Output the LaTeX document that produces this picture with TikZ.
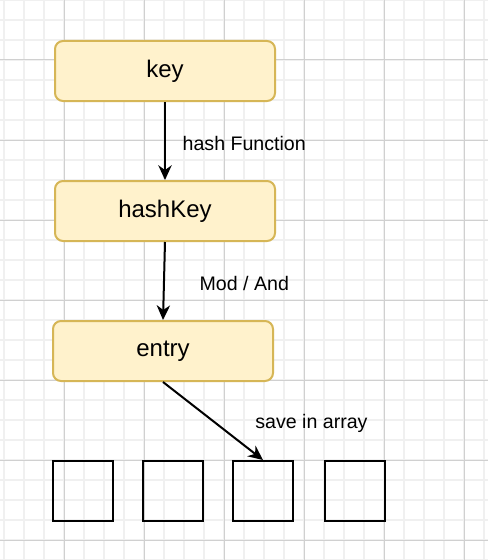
\documentclass[tikz,border=0pt]{standalone}
\usepackage{fontspec}
\setmainfont{Liberation Sans}
\usepackage{xcolor}
\usetikzlibrary{arrows.meta,positioning}
\definecolor{boxfill}{HTML}{FFF2CC}
\definecolor{boxdraw}{HTML}{D6B656}
\definecolor{minorgrey}{HTML}{F0F0F0}
\definecolor{majorgrey}{HTML}{D0D0D0}

\begin{document}
\begin{tikzpicture}[
    x=0.75pt, y=-0.75pt,
    node distance=58.5pt,
    every node/.style={align=center},
    stage/.style={rectangle, rounded corners=6pt, minimum width=165pt, minimum height=45pt, text centered, draw=boxdraw, fill=boxfill, line width=1.5pt, font=\fontsize{18}{21}\selectfont},
    cell/.style={rectangle, minimum width=45pt, minimum height=45pt, draw=black, line width=1.5pt, inner sep=0pt},
    steplabel/.style={inner sep=0pt, font=\fontsize{14.7}{17}\selectfont},
    arrow/.style={line width=1.5pt, -{Stealth[length=11pt, width=10pt, inset=3.5pt]}},
    minorline/.style={draw=minorgrey, line width=1.5pt},
    majorline/.style={draw=majorgrey, line width=0.75pt}
]

% Background grid
\useasboundingbox (0,0) rectangle (488,560);
\fill[white] (0,0) rectangle (488,560);
\foreach \x in {4,24,...,484} \draw[minorline] (\x,0) -- (\x,560);
\foreach \y in {0,20,...,560} \draw[minorline] (0,\y) -- (488,\y);
\foreach \x in {64,144,...,464} \draw[majorline] (\x,0) -- (\x,560);
\foreach \y in {60,140,...,540} \draw[majorline] (0,\y) -- (488,\y);

% Stages
\node[stage] (key) at (165,71) {key};
\node[stage, below=of key] (hash_key) {hashKey};
\node[stage, below=of hash_key, xshift=-1.5pt] (entry) {entry};

% Array cells
\node[cell] (cell_a) at (83,491) {};
\node[cell, right=21pt of cell_a] (cell_b) {};
\node[cell, right=21pt of cell_b] (cell_c) {};
\node[cell, right=22.5pt of cell_c] (cell_d) {};

% Connections
\draw[arrow] (key) -- node[steplabel, right=12.5pt, yshift=-1.5pt] {hash Function} (hash_key);
\draw[arrow] (hash_key.south) -- node[steplabel, right=26pt, yshift=-2pt] {Mod / And} (entry.north);
\draw[arrow] (entry.south) -- node[steplabel, right=31pt, yshift=-1.5pt] {save in array} (cell_c.north);

\end{tikzpicture}
\end{document}
